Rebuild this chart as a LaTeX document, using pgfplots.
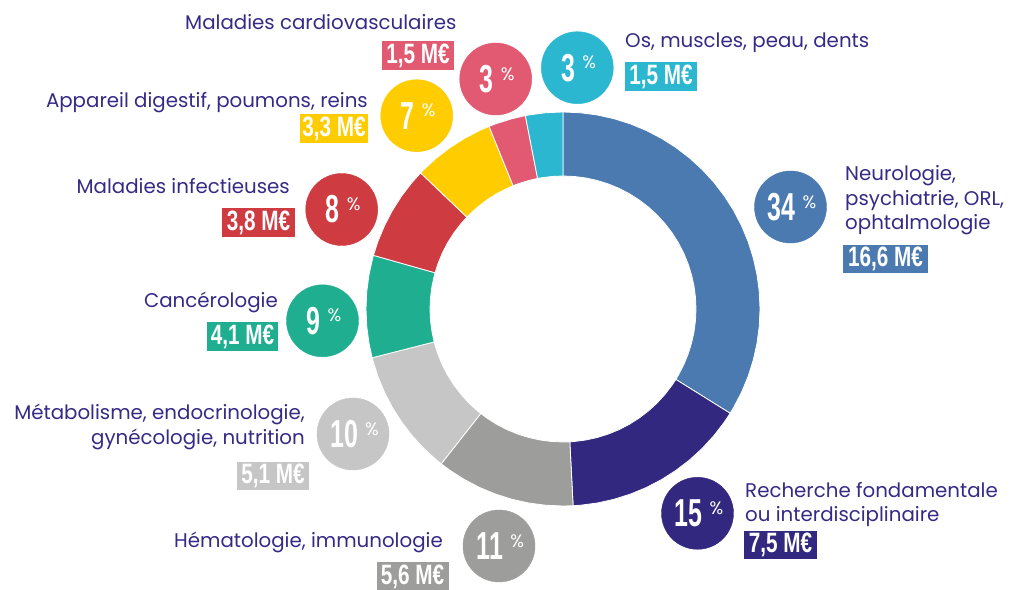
\documentclass[border=0pt]{standalone}
\usepackage{pgfplots}
\pgfplotsset{compat=1.18}
\usepgfplotslibrary{polar}
\usepackage{fontspec}
\setmainfont{Poppins}
\newfontfamily\condfont[FakeStretch=0.74]{Liberation Sans}
\newfontfamily\bubfont[FakeStretch=0.64]{Liberation Sans}
\definecolor{cBlue}{RGB}{74,122,175}
\definecolor{cNavy}{RGB}{50,40,128}
\definecolor{cDGray}{RGB}{157,157,156}
\definecolor{cLGray}{RGB}{198,198,198}
\definecolor{cTeal}{RGB}{31,175,144}
\definecolor{cRed}{RGB}{206,60,66}
\definecolor{cYellow}{RGB}{255,204,0}
\definecolor{cPink}{RGB}{225,90,114}
\definecolor{cCyan}{RGB}{43,183,208}
\definecolor{lab}{RGB}{53,42,134}
\newcommand\lbl{\fontsize{19.8}{24}\selectfont}
\newcommand\bub[1]{\bubfont\bfseries\fontsize{39}{39}\selectfont #1\hspace{7pt}\raisebox{12.3pt}{\rmfamily\mdseries\fontsize{18}{18}\selectfont\%}}
\newcommand\val[1]{\condfont\bfseries\fontsize{28}{28}\selectfont #1}
\tikzset{
  lbl/.style={font=\lbl, text=lab, inner sep=0pt},
  box/.style={text=white, inner sep=0pt, minimum height=28.5pt, anchor=center},
}
\pgfplotsset{
  bubble/.style 2 args={only marks, mark=*, mark size=36pt, color=#1,
    nodes near coords={\bub{#2}},
    every node near coord/.append style={anchor=center, text=white, inner sep=0pt, xshift=1.5pt}},
}
\begin{document}
\begin{tikzpicture}
\begin{axis}[
  x=1pt, y=1pt,
  xmin=-563, xmax=448, ymin=-280, ymax=309,
  hide axis, clip=false, scale only axis,
]
% donut slices (angle, radius), values in M EUR: 16.6, 7.5, 5.6, 5.1, 4.1, 3.8, 3.3, 1.5, 1.5
\addplot[fill=cBlue, draw=white, line width=0.8pt, data cs=polar] coordinates {
(90,197) (85,197) (80,197) (75,197) (70,197) (65,197) (60,197) (55,197) (50,197) (45,197) (40,197) (35,197) (30,197) (25,197) (20,197) (15,197) (10,197) (5,197) (0,197) (-5,197) (-10,197) (-15,197) (-20,197) (-25,197) (-30,197) (-31.96,197)
(-31.96,133) (-30,133) (-25,133) (-20,133) (-15,133) (-10,133) (-5,133) (0,133) (5,133) (10,133) (15,133) (20,133) (25,133) (30,133) (35,133) (40,133) (45,133) (50,133) (55,133) (60,133) (65,133) (70,133) (75,133) (80,133) (85,133) (90,133)
} -- cycle;
\addplot[fill=cNavy, draw=white, line width=0.8pt, data cs=polar] coordinates {
(-31.96,197) (-35,197) (-40,197) (-45,197) (-50,197) (-55,197) (-60,197) (-65,197) (-70,197) (-75,197) (-80,197) (-85,197) (-87.06,197)
(-87.06,133) (-85,133) (-80,133) (-75,133) (-70,133) (-65,133) (-60,133) (-55,133) (-50,133) (-45,133) (-40,133) (-35,133) (-31.96,133)
} -- cycle;
\addplot[fill=cDGray, draw=white, line width=0.8pt, data cs=polar] coordinates {
(-87.06,197) (-90,197) (-95,197) (-100,197) (-105,197) (-110,197) (-115,197) (-120,197) (-125,197) (-128.2,197)
(-128.2,133) (-125,133) (-120,133) (-115,133) (-110,133) (-105,133) (-100,133) (-95,133) (-90,133) (-87.06,133)
} -- cycle;
\addplot[fill=cLGray, draw=white, line width=0.8pt, data cs=polar] coordinates {
(-128.2,197) (-130,197) (-135,197) (-140,197) (-145,197) (-150,197) (-155,197) (-160,197) (-165,197) (-165.67,197)
(-165.67,133) (-165,133) (-160,133) (-155,133) (-150,133) (-145,133) (-140,133) (-135,133) (-130,133) (-128.2,133)
} -- cycle;
\addplot[fill=cTeal, draw=white, line width=0.8pt, data cs=polar] coordinates {
(-165.67,197) (-170,197) (-175,197) (-180,197) (-185,197) (-190,197) (-195,197) (-195.8,197)
(-195.8,133) (-195,133) (-190,133) (-185,133) (-180,133) (-175,133) (-170,133) (-165.67,133)
} -- cycle;
\addplot[fill=cRed, draw=white, line width=0.8pt, data cs=polar] coordinates {
(-195.8,197) (-200,197) (-205,197) (-210,197) (-215,197) (-220,197) (-223.71,197)
(-223.71,133) (-220,133) (-215,133) (-210,133) (-205,133) (-200,133) (-195.8,133)
} -- cycle;
\addplot[fill=cYellow, draw=white, line width=0.8pt, data cs=polar] coordinates {
(-223.71,197) (-225,197) (-230,197) (-235,197) (-240,197) (-245,197) (-247.96,197)
(-247.96,133) (-245,133) (-240,133) (-235,133) (-230,133) (-225,133) (-223.71,133)
} -- cycle;
\addplot[fill=cPink, draw=white, line width=0.8pt, data cs=polar] coordinates {
(-247.96,197) (-250,197) (-255,197) (-258.98,197)
(-258.98,133) (-255,133) (-250,133) (-247.96,133)
} -- cycle;
\addplot[fill=cCyan, draw=white, line width=0.8pt, data cs=polar] coordinates {
(-258.98,197) (-260,197) (-265,197) (-270,197)
(-270,133) (-265,133) (-260,133) (-258.98,133)
} -- cycle;
% bubbles with percentages
\addplot[bubble={cBlue}{34}] coordinates {(227.5,102)};
\addplot[bubble={cNavy}{15}] coordinates {(134.5,-204.3)};
\addplot[bubble={cDGray}{11}] coordinates {(-64,-237)};
\addplot[bubble={cLGray}{10}] coordinates {(-210,-125)};
\addplot[bubble={cTeal}{9}] coordinates {(-240.5,-11.8)};
\addplot[bubble={cRed}{8}] coordinates {(-221.3,99.5)};
\addplot[bubble={cYellow}{7}] coordinates {(-146.3,193.3)};
\addplot[bubble={cPink}{3}] coordinates {(-67.3,230)};
\addplot[bubble={cCyan}{3}] coordinates {(14.3,241.3)};
% labels
\node[lbl, anchor=base west] at (axis cs:-378,279) {Maladies cardiovasculaires};
\node[lbl, anchor=base west] at (axis cs:62,261) {Os, muscles, peau, dents};
\node[lbl, anchor=base east] at (axis cs:-195,201) {Appareil digestif, poumons, reins};
\node[lbl, anchor=base east] at (axis cs:-273,115) {Maladies infectieuses};
\node[lbl, anchor=base east] at (axis cs:-285,1) {Cancérologie};
\node[lbl, anchor=base east] at (axis cs:-258,-111) {Métabolisme, endocrinologie,};
\node[lbl, anchor=base east] at (axis cs:-258,-136) {gynécologie, nutrition};
\node[lbl, anchor=base east] at (axis cs:-120,-238) {Hématologie, immunologie};
\node[lbl, anchor=base west] at (axis cs:282,128) {Neurologie,};
\node[lbl, anchor=base west] at (axis cs:282,103.5) {psychiatrie, ORL,};
\node[lbl, anchor=base west] at (axis cs:282,79) {ophtalmologie};
\node[lbl, anchor=base west] at (axis cs:182,-188.7) {Recherche fondamentale};
\node[lbl, anchor=base west] at (axis cs:182,-212.7) {ou interdisciplinaire};
% value boxes
\node[box, fill=cPink, minimum width=72pt] at (axis cs:-145,253.5) {\val{1,5 M€}};
\node[box, fill=cCyan, minimum width=72pt] at (axis cs:98,232.5) {\val{1,5 M€}};
\node[box, fill=cYellow, minimum width=68pt] at (axis cs:-229,180.5) {\val{3,3 M€}};
\node[box, fill=cRed, minimum width=73pt] at (axis cs:-304.5,86.5) {\val{3,8 M€}};
\node[box, fill=cTeal, minimum width=71pt] at (axis cs:-320.5,-27.5) {\val{4,1 M€}};
\node[box, fill=cLGray, minimum width=72pt] at (axis cs:-290,-167) {\val{5,1 M€}};
\node[box, fill=cDGray, minimum width=72pt] at (axis cs:-150.5,-267.5) {\val{5,6 M€}};
\node[box, fill=cBlue, minimum width=85pt] at (axis cs:322.5,50) {\val{16,6 M€}};
\node[box, fill=cNavy, minimum width=73pt] at (axis cs:217.5,-236) {\val{7,5 M€}};
\end{axis}
\pgfresetboundingbox
\useasboundingbox (current axis.south west) rectangle (current axis.north east);
\end{tikzpicture}
\end{document}
